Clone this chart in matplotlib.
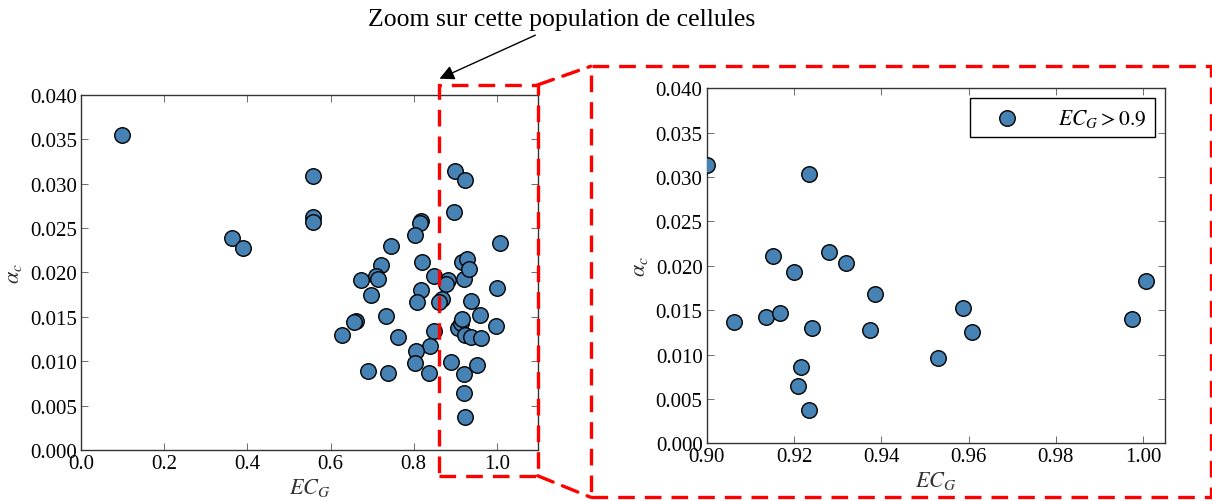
import numpy as np
import matplotlib
matplotlib.use("Agg")
import matplotlib.pyplot as plt
from matplotlib.patches import Rectangle, ConnectionPatch

# Contact-area eccentricity EC_G versus alpha_c for every cell
ecg = [0.098, 0.363, 0.390, 0.558, 0.557, 0.557, 0.896, 0.818, 0.814, 0.802,
       0.745, 1.008, 0.820, 0.848, 0.882, 0.878, 0.817, 0.808, 0.868, 0.862,
       0.722, 0.710, 0.713, 0.674, 0.698, 0.662, 0.656, 0.628, 0.734, 0.762,
       0.849, 0.838, 0.806, 0.804, 0.836, 0.690, 0.737, 0.889,
       # cells with EC_G > 0.9
       0.9001, 0.9234, 0.9153, 0.9200, 0.9280, 0.9320, 0.9386, 0.9062, 0.9136,
       0.9168, 0.9242, 0.9375, 0.9216, 0.9210, 0.9235, 0.9587, 0.9607, 0.9531,
       1.0007, 0.9974]
alpha_c = [0.0355, 0.0239, 0.0227, 0.0308, 0.0262, 0.0257, 0.0268, 0.0258, 0.0255, 0.0242,
           0.0230, 0.0233, 0.0212, 0.0196, 0.0191, 0.0187, 0.0180, 0.0167, 0.0170, 0.0167,
           0.0208, 0.0196, 0.0193, 0.0191, 0.0175, 0.0145, 0.0144, 0.0130, 0.0151, 0.0127,
           0.0134, 0.0117, 0.0112, 0.0098, 0.0087, 0.0089, 0.0087, 0.0099,
           0.03136, 0.03034, 0.02114, 0.01926, 0.02152, 0.02032, 0.01682, 0.01370, 0.01427,
           0.01472, 0.01296, 0.01277, 0.00856, 0.00642, 0.00375, 0.01524, 0.01258, 0.00958,
           0.01825, 0.01400]

threshold = 0.9
zoom_x = (0.862, 1.098)
zoom_y = (-0.0029, 0.0411)

plt.rcParams['font.family'] = ['Liberation Serif', 'DejaVu Serif']
plt.rcParams['mathtext.fontset'] = 'stix'

ecg = np.array(ecg)
alpha_c = np.array(alpha_c)
sel = ecg > threshold

fig = plt.figure(figsize=(12.12, 5.02), dpi=100)
ax1 = fig.add_axes([0.0668, 0.1016, 0.3775, 0.7078])
ax2 = fig.add_axes([0.5831, 0.1149, 0.3781, 0.7072])

dot = dict(s=125, c='#4682b4', edgecolors='black', linewidths=1.0, zorder=3)

ax1.scatter(ecg, alpha_c, **dot)
ax1.set_xlim(0, 1.1)
ax1.set_ylim(0, 0.04)

ax2.scatter(ecg[sel], alpha_c[sel], label=r'$EC_G > 0.9$', **dot)
ax2.set_xlim(0.9, 1.005)
ax2.set_ylim(0, 0.04)
ax2.set_xticks([0.90, 0.92, 0.94, 0.96, 0.98, 1.00])
leg = ax2.legend(loc='upper right', scatterpoints=1, fancybox=False,
                 fontsize=15.5, framealpha=1, borderpad=0.4, handlelength=2.7,
                 handletextpad=1.0, borderaxespad=0, bbox_to_anchor=(0.978, 0.972))
leg.get_frame().set_edgecolor('black')
leg.get_frame().set_linewidth(1.0)

for ax in (ax1, ax2):
    ax.set_yticks(np.arange(0, 0.0401, 0.005))
    ax.set_yticklabels(['%.3f' % v for v in np.arange(0, 0.0401, 0.005)])
    ax.set_xticklabels(['%.1f' % v if ax is ax1 else '%.2f' % v for v in ax.get_xticks()])
    ax.tick_params(direction='in', top=True, right=True, labelsize=15,
                   length=5, width=0.6, color='#555555', pad=3)
    for sp in ax.spines.values():
        sp.set_linewidth(1.0)
        sp.set_color('#333333')
    ax.set_xlabel(r'$EC_G$', fontsize=16, color='#333333', labelpad=2)
    ax.set_ylabel(r'$\alpha_c$', fontsize=16, color='#333333', labelpad=4)

# red dashed frame around the selected population
red = dict(edgecolor='red', facecolor='none', linewidth=2.4, linestyle=(0, (5, 3)))
small = Rectangle((zoom_x[0], zoom_y[0]), zoom_x[1] - zoom_x[0], zoom_y[1] - zoom_y[0],
                  transform=ax1.transData, clip_on=False, zorder=5, **red)
ax1.add_patch(small)

big_lo, big_hi = (0.4874, 0.0074), (0.9992, 0.866)
big = Rectangle(big_lo, big_hi[0] - big_lo[0], big_hi[1] - big_lo[1],
                transform=fig.transFigure, **red)
fig.patches.append(big)

for ya, yb in ((zoom_y[1], big_hi[1]), (zoom_y[0], big_lo[1])):
    con = ConnectionPatch(xyA=(zoom_x[1], ya), coordsA=ax1.transData,
                          xyB=(big_lo[0], yb), coordsB=fig.transFigure,
                          color='red', linewidth=2.4, linestyle=(0, (5, 3)))
    fig.add_artist(con)

ax1.annotate('Zoom sur cette population de cellules',
             xy=(zoom_x[0], 0.0418), xycoords='data',
             xytext=(0.4637, 0.96), textcoords='figure fraction',
             ha='center', va='center', fontsize=18.5, annotation_clip=False,
             arrowprops=dict(arrowstyle='-|>', color='black', lw=1.0,
                             mutation_scale=22, relpos=(0.46, 0.0),
                             shrinkA=4, shrinkB=0))

fig.savefig('out.png', dpi=100)
